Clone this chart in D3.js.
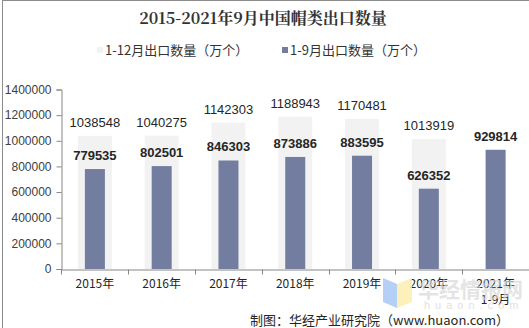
<!DOCTYPE html>
<html><head><meta charset="utf-8">
<script src="https://cdn.jsdelivr.net/npm/d3@7"></script>
<style>body{margin:0;background:#fff}svg{display:block}</style>
</head><body>
<svg id="c" width="529" height="328"></svg>
<script>
const categories = ["2015年","2016年","2017年","2018年","2019年","2020年","2021年\n1-9月"];
const fullYear = [1038548,1040275,1142303,1188943,1170481,1013919,null];
const ninMonths = [779535,802501,846303,873886,883595,626352,929814];
const yTicks = [0,200000,400000,600000,800000,1000000,1200000,1400000];
const seriesNames = ["1-12月出口数量（万个）","1-9月出口数量（万个）"];
const colors = ["#f2f2f2","#727d9f"];

const svg = d3.select("#c");
const font = "'Liberation Sans', Arial, sans-serif";
const cjk = "'Noto Sans CJK SC', sans-serif";

// border
svg.append("rect").attr("x",2.5).attr("y",0.5).attr("width",540).attr("height",340)
  .attr("fill","none").attr("stroke","#8c8c8c");

const x = d3.scaleBand().domain(categories).range([61.5,529]);
const y = d3.scaleLinear().domain([0,1400000]).range([269,89.5]);

// title
svg.append("text").attr("x",263).attr("y",24).attr("text-anchor","middle")
  .attr("font-family","'Noto Serif CJK SC','Noto Sans CJK SC',serif").attr("font-weight","bold")
  .attr("font-size",16).attr("fill","#333").text("2015-2021年9月中国帽类出口数量");

// legend
const leg = [{x:97,c:colors[0],t:seriesNames[0]},{x:282,c:colors[1],t:seriesNames[1]}];
leg.forEach(l=>{
  svg.append("rect").attr("x",l.x).attr("y",47).attr("width",6).attr("height",6).attr("fill",l.c);
  svg.append("text").attr("x",l.x+8).attr("y",55).attr("font-family",cjk).attr("font-size",13)
    .attr("fill","#333").text(l.t);
});

// bars
const bw1 = 34, bw2 = 20;
svg.append("g").selectAll("rect").data(categories.map((c,i)=>({c,v:fullYear[i]})).filter(d=>d.v!=null))
  .join("rect").attr("x",d=>x(d.c)+x.bandwidth()/2-bw1/2).attr("width",bw1)
  .attr("y",d=>y(d.v)).attr("height",d=>y(0)-y(d.v)).attr("fill",colors[0]);
svg.append("g").selectAll("rect").data(categories.map((c,i)=>({c,v:ninMonths[i]})))
  .join("rect").attr("x",d=>x(d.c)+x.bandwidth()/2-bw2/2).attr("width",bw2)
  .attr("y",d=>y(d.v)).attr("height",d=>y(0)-y(d.v)).attr("fill",colors[1]);

// labels
svg.append("g").selectAll("text").data(categories.map((c,i)=>({c,v:fullYear[i]})).filter(d=>d.v!=null))
  .join("text").attr("x",d=>x(d.c)+x.bandwidth()/2).attr("y",d=>y(d.v)-9)
  .attr("text-anchor","middle").attr("font-family",font).attr("font-size",13).attr("fill","#262626")
  .text(d=>d.v);
svg.append("g").selectAll("text").data(categories.map((c,i)=>({c,v:ninMonths[i]})))
  .join("text").attr("x",d=>x(d.c)+x.bandwidth()/2).attr("y",d=>y(d.v)-9)
  .attr("text-anchor","middle").attr("font-family",font).attr("font-weight","bold").attr("font-size",13).attr("fill","#262626")
  .text(d=>d.v);

// y axis
const ya = svg.append("g").attr("transform","translate(61.5,0)")
  .call(d3.axisLeft(y).tickValues(yTicks).tickSize(5).tickPadding(5).tickFormat(d3.format("d")));
ya.select(".domain").attr("stroke","#868686");
ya.selectAll(".tick line").attr("stroke","#868686");
ya.selectAll("text").attr("font-family",font).attr("font-size",12).attr("fill","#404040");

// x axis
const xa = svg.append("g").attr("transform","translate(0,269.5)")
  .call(d3.axisBottom(x).tickSize(0).tickFormat(""));
xa.select(".domain").attr("stroke","#868686");
const bounds = x.domain().map(d=>x(d)).concat([529]);
svg.append("g").selectAll("line").data(bounds).join("line")
  .attr("x1",d=>Math.round(d)+0.5).attr("x2",d=>Math.round(d)+0.5).attr("y1",269.5).attr("y2",274.5)
  .attr("stroke","#868686");
categories.forEach(c=>{
  const lines = c.split("\n");
  const t = svg.append("text").attr("x",x(c)+x.bandwidth()/2).attr("y",288)
    .attr("text-anchor","middle").attr("font-family",cjk).attr("font-size",12).attr("fill","#262626");
  lines.forEach((l,i)=>t.append("tspan").attr("x",x(c)+x.bandwidth()/2).attr("dy",i?16:0).text(l));
});

// watermark
const wm = svg.append("g").attr("opacity",0.85);
wm.append("path").attr("d","M383,278 L397,284 L397,308 L383,302 Z").attr("fill","#a9c8f5");
wm.append("path").attr("d","M397,284 L412,278 L412,302 L397,308 Z").attr("fill","#fdeeb0");
wm.append("text").attr("x",418).attr("y",297).attr("font-family",cjk).attr("font-weight","bold")
  .attr("font-size",21).attr("fill","#d8d8d8").attr("fill-opacity",0.8).text("华经情报网");
wm.append("text").attr("x",424).attr("y",309).attr("font-family",font).attr("font-size",11)
  .attr("letter-spacing",5).attr("fill","#dcdcdc").text("huaon.com");

// footer
svg.append("text").attr("x",509).attr("y",325).attr("text-anchor","end")
  .attr("font-family",cjk).attr("font-size",13).attr("fill","#262626")
  .text("制图：华经产业研究院（www.huaon.com）");
</script>
</body></html>
